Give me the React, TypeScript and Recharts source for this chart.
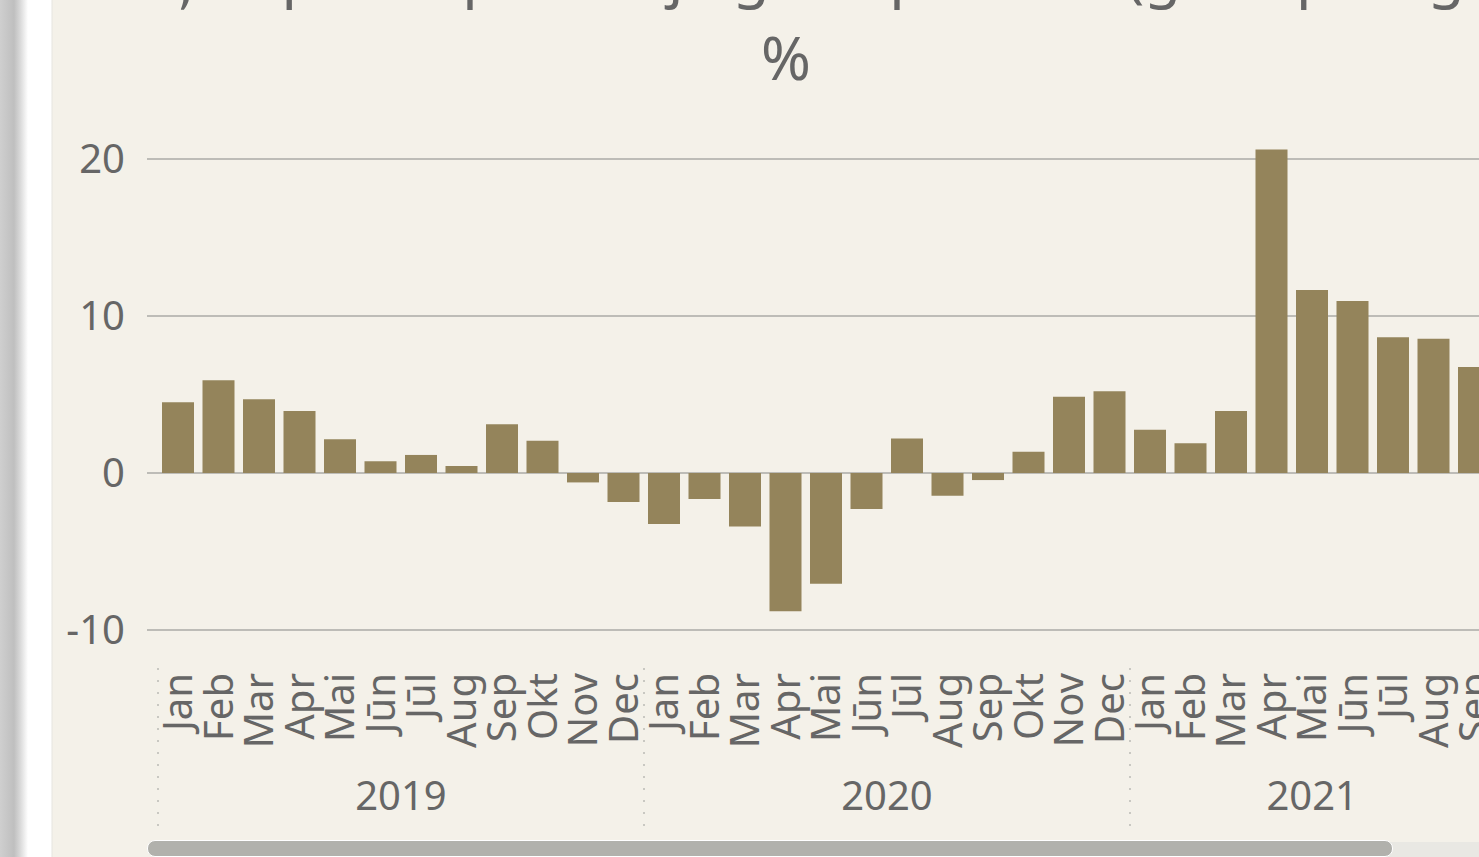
import { BarChart, Bar, XAxis, YAxis, CartesianGrid } from "recharts";

const BAR_COLOR = "#94845b";
const TEXT = "#666666";
const FONT = "'Segoe UI', 'Noto Sans', sans-serif";

const MONTHS = ["Jan", "Feb", "Mar", "Apr", "Mai", "Jūn", "Jūl", "Aug", "Sep", "Okt", "Nov", "Dec"];
const YEARS = ["2019", "2020", "2021"];

// yoy change, %
const values2019 = [4.5, 5.9, 4.7, 3.95, 2.15, 0.75, 1.15, 0.45, 3.1, 2.05, -0.6, -1.85];
const values2020 = [-3.25, -1.65, -3.4, -8.8, -7.05, -2.3, 2.2, -1.45, -0.45, 1.35, 4.85, 5.2];
const values2021 = [2.75, 1.9, 3.95, 20.6, 11.65, 10.95, 8.65, 8.55, 6.75];

const Y_TICKS = [-10, 0, 10, 20];

const seriesByYear = [values2019, values2020, values2021];

const data = seriesByYear.flatMap((vals, yi) =>
  vals.map((v, mi) => ({
    key: `${YEARS[yi]} ${MONTHS[mi]}`,
    month: MONTHS[mi],
    year: YEARS[yi],
    first: mi === 0,
    count: vals.length,
    value: v,
  }))
);

function MonthTick(props: any) {
  const { x, y, payload } = props;
  const row = data[payload.index];
  if (!row) return null;
  const half = payload.offset || 20.25;
  const ly = y + 43;
  return (
    <g>
      <text
        x={x}
        y={ly}
        dy="0.35em"
        transform={`rotate(-90 ${x} ${ly})`}
        textAnchor="end"
        fill={TEXT}
        fontSize={40}
        fontFamily={FONT}
      >
        {row.month}
      </text>
      {row.first && (
        <>
          <line
            x1={x - half}
            x2={x - half}
            y1={y + 38}
            y2={y + 198}
            stroke="#c9c8c2"
            strokeWidth={2}
            strokeDasharray="2 10"
          />
          <text
            x={x + (row.count - 1) * half}
            y={y + 180}
            textAnchor="middle"
            fill={TEXT}
            fontSize={40}
            fontFamily={FONT}
          >
            {row.year}
          </text>
        </>
      )}
    </g>
  );
}

export default function App() {
  return (
    <div
      style={{
        position: "absolute",
        left: 0,
        top: 0,
        width: 1479,
        height: 857,
        overflow: "hidden",
        background: "#f4f1e9",
      }}
    >
      <svg
        width={1479}
        height={100}
        style={{ position: "absolute", left: 0, top: 0, overflow: "visible" }}
      >
        <text x={786} y={-4} textAnchor="middle" fill={TEXT} fontSize={60} fontFamily={FONT}>
          pārmaiņas pret iepriekšējā gada periodu (gads pret gadu),
        </text>
        <text x={786} y={80} textAnchor="middle" fill={TEXT} fontSize={60} fontFamily={FONT}>
          %
        </text>
      </svg>

      <div style={{ position: "absolute", left: 0, top: 0 }}>
        <BarChart
          width={1520}
          height={857}
          data={data}
          margin={{ top: 127.6, right: 0, left: 0, bottom: 0 }}
        >
          <CartesianGrid
            vertical={false}
            horizontalValues={Y_TICKS}
            stroke="#bdbcb7"
            strokeWidth={2}
          />
          <XAxis
            dataKey="key"
            interval={0}
            axisLine={false}
            tickLine={false}
            tickSize={0}
            tickMargin={0}
            height={227}
            padding={{ left: 11, right: 25.5 }}
            tick={<MonthTick />}
          />
          <YAxis
            width={147}
            domain={[-10, 22]}
            ticks={Y_TICKS}
            interval={0}
            axisLine={false}
            tickLine={false}
            tickSize={0}
            tickMargin={22}
            tick={{ fill: TEXT, fontSize: 40, fontFamily: FONT }}
          />
          <Bar dataKey="value" fill={BAR_COLOR} barSize={32} isAnimationActive={false} />
        </BarChart>
      </div>

      {/* scrollbar */}
      <div
        style={{
          position: "absolute",
          left: 1380,
          top: 842,
          width: 120,
          height: 15,
          background: "#e9e8e3",
        }}
      />
      <div
        style={{
          position: "absolute",
          left: 147,
          top: 840,
          width: 1244,
          height: 15,
          borderRadius: 8,
          background: "#b1b1ac",
          border: "1px solid #ffffff",
        }}
      />

      {/* page edge shadow */}
      <div
        style={{
          position: "absolute",
          left: 0,
          top: 0,
          width: 53,
          height: 857,
          background:
            "linear-gradient(to right, #cfcfcf 0px, #bfbfbf 14px, #d8d8d8 20px, #ffffff 28px, #ffffff 51px, #e6e5e0 52px, #f4f1e9 53px)",
        }}
      />
    </div>
  );
}
